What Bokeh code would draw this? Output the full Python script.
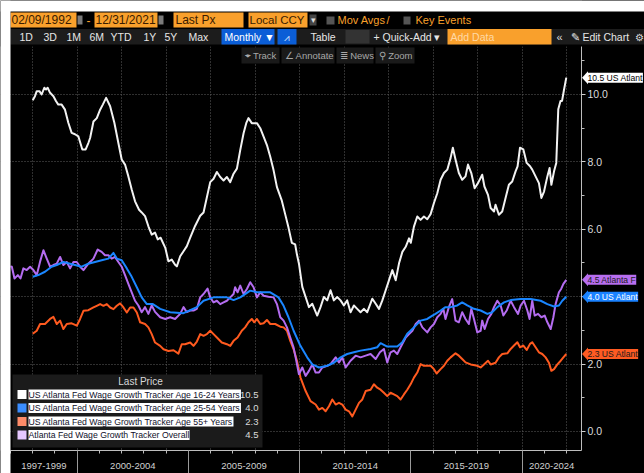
from bokeh.plotting import figure
from bokeh.models import (Range1d, LinearAxis, FixedTicker, BoxAnnotation, Label, Grid,
                          PrintfTickFormatter, PolyAnnotation)
from bokeh.embed import file_html
from bokeh.resources import INLINE

# ---------------- data (decimal years, % wage growth) ----------------
years_1624 = [1998.00, 1998.10, 1998.18, 1998.30, 1998.40, 1998.52, 1998.60, 1998.67, 1998.78, 1998.93,
              1999.05, 1999.15, 1999.30, 1999.45, 1999.60, 1999.75, 1999.90, 2000.05, 2000.23, 2000.38,
              2000.50, 2000.58, 2000.73, 2000.88, 2001.03, 2001.15, 2001.30, 2001.48, 2001.67, 2001.85,
              2002.00, 2002.15, 2002.30, 2002.45, 2002.60, 2002.78, 2002.90, 2003.05, 2003.20, 2003.35,
              2003.50, 2003.62, 2003.75, 2003.96, 2004.10, 2004.25, 2004.40, 2004.48, 2004.63, 2004.78,
              2004.93, 2005.08, 2005.30, 2005.53, 2005.68, 2005.83, 2005.98, 2006.13, 2006.28, 2006.43,
              2006.58, 2006.73, 2006.88, 2007.03, 2007.18, 2007.33, 2007.48, 2007.60, 2007.70, 2007.85,
              2008.08, 2008.23, 2008.38, 2008.53, 2008.68, 2008.83, 2008.98, 2009.20, 2009.35, 2009.50,
              2009.65, 2009.80, 2009.88, 2009.97, 2010.12, 2010.27, 2010.42, 2010.57, 2010.79, 2010.94,
              2011.09, 2011.24, 2011.39, 2011.54, 2011.69, 2011.84, 2011.99, 2012.14, 2012.29, 2012.44,
              2012.59, 2012.74, 2012.89, 2013.04, 2013.27, 2013.42, 2013.57, 2013.72, 2013.87, 2014.02,
              2014.17, 2014.32, 2014.47, 2014.62, 2014.77, 2014.92, 2015.00, 2015.14, 2015.29, 2015.44,
              2015.59, 2015.74, 2015.89, 2016.04, 2016.19, 2016.34, 2016.49, 2016.64, 2016.79, 2016.89,
              2017.01, 2017.16, 2017.31, 2017.46, 2017.57, 2017.72, 2017.87, 2018.02, 2018.21, 2018.31,
              2018.47, 2018.59, 2018.74, 2018.81, 2018.96, 2019.11, 2019.26, 2019.41, 2019.56, 2019.71,
              2019.80, 2019.91, 2020.06, 2020.21, 2020.36, 2020.46, 2020.61, 2020.76, 2020.87, 2020.99,
              2021.14, 2021.24, 2021.32, 2021.44, 2021.54, 2021.63, 2021.73, 2021.80, 2021.88, 2021.99]
wage_1624 = [9.83, 9.95, 10.10, 10.10, 10.00, 10.20, 10.15, 10.20, 10.05, 9.95,
             9.80, 9.70, 9.70, 9.55, 9.16, 8.86, 8.82, 8.76, 8.37, 8.37,
             8.56, 8.71, 9.20, 9.30, 9.55, 9.70, 9.90, 9.65, 9.16, 8.56,
             8.07, 7.92, 7.57, 7.18, 6.83, 6.58, 6.50, 6.39, 6.09, 5.84,
             5.90, 5.70, 5.75, 5.45, 5.05, 5.10, 4.95, 4.90, 5.20, 5.35,
             5.50, 5.75, 6.10, 6.40, 6.50, 6.95, 7.40, 7.50, 7.70, 7.55,
             7.45, 7.55, 7.40, 7.65, 7.80, 8.35, 8.85, 9.15, 9.30, 9.15,
             9.15, 9.00, 8.75, 8.50, 8.15, 7.75, 7.25, 6.85, 6.45, 6.05,
             5.60, 5.55, 5.25, 4.98, 4.29, 3.99, 3.69, 3.79, 3.44, 3.69,
             3.99, 3.89, 4.19, 3.89, 3.99, 3.89, 3.74, 3.89, 3.54, 3.74,
             3.64, 3.54, 3.64, 3.54, 3.94, 3.79, 3.64, 3.89, 4.19, 4.49,
             4.79, 4.49, 4.99, 5.33, 5.48, 5.73, 5.60, 6.08, 6.38, 6.28,
             6.38, 6.30, 6.45, 6.78, 7.07, 7.47, 7.67, 7.77, 8.12, 8.42,
             8.07, 7.67, 7.47, 7.57, 7.92, 7.67, 7.22, 7.37, 7.62, 7.27,
             7.02, 6.63, 6.53, 6.73, 6.43, 6.53, 6.93, 7.32, 7.42, 7.72,
             7.87, 8.42, 8.37, 7.97, 7.87, 7.77, 7.57, 7.37, 6.93, 7.12,
             7.57, 7.82, 7.32, 7.72, 7.97, 9.56, 9.81, 9.81, 10.11, 10.50]

years_2554 = [1998.00, 1998.25, 1998.55, 1998.85, 1999.08, 1999.38, 1999.68, 1999.90, 2000.20, 2000.50,
              2000.80, 2001.10, 2001.40, 2001.63, 2001.78, 2002.00, 2002.23, 2002.45, 2002.68, 2002.90,
              2003.13, 2003.40, 2003.73, 2004.18, 2004.78, 2005.38, 2005.68, 2006.13, 2006.73, 2007.03,
              2007.33, 2007.78, 2008.08, 2008.68, 2009.05, 2009.28, 2009.50, 2009.73, 2010.03, 2010.34,
              2010.57, 2010.87, 2011.24, 2011.54, 2011.84, 2012.14, 2012.44, 2012.74, 2013.19, 2013.49,
              2013.64, 2013.94, 2014.39, 2014.62, 2014.84, 2015.14, 2015.44, 2015.74, 2015.97, 2016.11,
              2016.34, 2016.56, 2016.79, 2017.09, 2017.31, 2017.54, 2017.84, 2018.14, 2018.44, 2018.66,
              2018.89, 2019.19, 2019.49, 2019.94, 2020.39, 2020.84, 2021.14, 2021.44, 2021.66, 2021.81,
              2021.99]
wage_2554 = [4.59, 4.64, 4.74, 4.89, 4.94, 5.03, 4.98, 4.94, 4.89, 4.98,
             5.03, 5.08, 5.13, 5.30, 5.13, 5.08, 4.84, 4.59, 4.28, 3.98,
             3.78, 3.78, 3.64, 3.54, 3.51, 3.69, 3.88, 3.98, 3.98, 3.90,
             3.98, 4.18, 4.13, 4.13, 3.98, 3.73, 3.39, 2.99, 2.55, 2.20,
             1.99, 1.90, 1.95, 2.04, 2.20, 2.30, 2.35, 2.40, 2.45, 2.50,
             2.62, 2.52, 2.52, 2.65, 2.90, 3.09, 3.29, 3.34, 3.44, 3.49,
             3.59, 3.69, 3.69, 3.74, 3.83, 3.74, 3.64, 3.59, 3.49, 3.54,
             3.69, 3.83, 3.90, 3.93, 3.93, 3.88, 3.78, 3.71, 3.74, 3.88,
             4.00]

years_55 = [1998.00, 1998.18, 1998.33, 1998.55, 1998.78, 1998.93, 1999.08, 1999.23, 1999.38, 1999.53,
            1999.75, 1999.98, 2000.13, 2000.28, 2000.50, 2000.73, 2000.88, 2001.03, 2001.18, 2001.33,
            2001.48, 2001.63, 2001.78, 2001.93, 2002.08, 2002.23, 2002.38, 2002.53, 2002.68, 2002.83,
            2003.05, 2003.20, 2003.35, 2003.50, 2003.73, 2003.88, 2004.10, 2004.33, 2004.55, 2004.70,
            2004.85, 2005.08, 2005.23, 2005.38, 2005.53, 2005.68, 2005.83, 2005.98, 2006.13, 2006.28,
            2006.50, 2006.73, 2006.88, 2007.03, 2007.21, 2007.40, 2007.55, 2007.70, 2007.85, 2007.96,
            2008.08, 2008.23, 2008.38, 2008.53, 2008.68, 2008.90, 2009.13, 2009.28, 2009.43, 2009.58,
            2009.73, 2009.88, 2010.04, 2010.27, 2010.49, 2010.72, 2010.87, 2011.02, 2011.17, 2011.32,
            2011.47, 2011.62, 2011.77, 2011.92, 2012.07, 2012.22, 2012.37, 2012.52, 2012.67, 2012.82,
            2012.97, 2013.19, 2013.34, 2013.49, 2013.64, 2013.79, 2013.94, 2014.09, 2014.24, 2014.39,
            2014.54, 2014.69, 2014.84, 2014.99, 2015.14, 2015.29, 2015.44, 2015.59, 2015.74, 2015.89,
            2016.04, 2016.16, 2016.34, 2016.49, 2016.64, 2016.79, 2017.01, 2017.16, 2017.31, 2017.46,
            2017.69, 2017.99, 2018.14, 2018.29, 2018.47, 2018.59, 2018.81, 2018.96, 2019.11, 2019.34,
            2019.49, 2019.64, 2019.79, 2019.91, 2020.06, 2020.21, 2020.36, 2020.46, 2020.61, 2020.76,
            2020.91, 2021.06, 2021.21, 2021.32, 2021.44, 2021.59, 2021.74, 2021.86, 2021.99]
wage_55 = [2.90, 2.99, 3.19, 3.19, 3.34, 3.40, 3.19, 3.29, 3.04, 3.19,
           3.21, 3.14, 3.34, 3.58, 3.60, 3.68, 3.73, 3.78, 3.73, 3.78,
           3.68, 3.63, 3.73, 3.80, 3.68, 3.53, 3.68, 3.68, 3.53, 3.24,
           3.19, 3.09, 2.89, 2.64, 2.54, 2.44, 2.39, 2.41, 2.31, 2.59,
           2.59, 2.64, 2.54, 2.67, 2.89, 2.84, 2.89, 2.99, 2.89, 2.79,
           2.64, 2.59, 2.54, 2.69, 2.79, 2.99, 3.09, 3.24, 3.34, 3.24,
           3.34, 3.19, 3.21, 3.31, 3.19, 3.19, 3.11, 3.09, 2.99, 2.69,
           2.44, 2.10, 1.60, 1.20, 0.90, 0.80, 0.65, 0.70, 0.60, 0.75,
           0.95, 0.80, 0.85, 0.80, 0.65, 0.60, 0.45, 0.65, 0.85, 0.95,
           1.20, 1.24, 1.40, 1.30, 1.24, 1.15, 1.05, 1.15, 1.10, 1.05,
           0.95, 1.10, 1.24, 1.40, 1.60, 1.75, 2.00, 1.95, 1.95, 1.95,
           1.85, 1.72, 1.85, 1.95, 2.10, 2.20, 2.32, 2.25, 2.15, 2.05,
           1.99, 1.95, 1.90, 1.99, 2.10, 1.99, 2.04, 2.20, 2.30, 2.32,
           2.45, 2.55, 2.65, 2.50, 2.55, 2.42, 2.60, 2.65, 2.50, 2.35,
           2.30, 2.20, 2.04, 1.80, 1.85, 1.99, 2.10, 2.20, 2.30]

years_all = [1997.00, 1997.06, 1997.18, 1997.33, 1997.45, 1997.58, 1997.73, 1997.88, 1998.03, 1998.18,
             1998.33, 1998.48, 1998.63, 1998.78, 1998.93, 1999.08, 1999.23, 1999.38, 1999.53, 1999.68,
             1999.83, 1999.98, 2000.13, 2000.28, 2000.50, 2000.73, 2000.92, 2001.10, 2001.25, 2001.40,
             2001.55, 2001.70, 2001.85, 2002.00, 2002.15, 2002.30, 2002.45, 2002.60, 2002.75, 2002.90,
             2003.05, 2003.20, 2003.35, 2003.50, 2003.73, 2003.96, 2004.18, 2004.40, 2004.63, 2004.78,
             2004.93, 2005.08, 2005.23, 2005.38, 2005.53, 2005.68, 2005.86, 2005.98, 2006.13, 2006.28,
             2006.43, 2006.58, 2006.73, 2006.88, 2007.03, 2007.10, 2007.21, 2007.33, 2007.48, 2007.63,
             2007.78, 2007.93, 2008.08, 2008.23, 2008.38, 2008.60, 2008.83, 2008.98, 2009.13, 2009.28,
             2009.43, 2009.58, 2009.73, 2009.82, 2009.97, 2010.12, 2010.27, 2010.42, 2010.57, 2010.72,
             2010.87, 2011.02, 2011.24, 2011.39, 2011.62, 2011.77, 2011.92, 2012.07, 2012.29, 2012.52,
             2012.74, 2012.97, 2013.19, 2013.42, 2013.61, 2013.79, 2013.94, 2014.09, 2014.24, 2014.39,
             2014.54, 2014.77, 2014.92, 2015.07, 2015.22, 2015.37, 2015.52, 2015.74, 2015.89, 2016.04,
             2016.19, 2016.34, 2016.46, 2016.56, 2016.71, 2016.86, 2017.01, 2017.16, 2017.31, 2017.46,
             2017.61, 2017.72, 2017.84, 2017.99, 2018.14, 2018.21, 2018.32, 2018.47, 2018.62, 2018.74,
             2018.89, 2019.04, 2019.16, 2019.31, 2019.49, 2019.64, 2019.82, 2019.94, 2020.09, 2020.24,
             2020.34, 2020.46, 2020.57, 2020.72, 2020.87, 2021.02, 2021.14, 2021.29, 2021.41, 2021.51,
             2021.66, 2021.76, 2021.86, 2021.99]
wage_all = [4.90, 4.89, 4.54, 4.64, 4.54, 4.84, 4.79, 4.89, 4.79, 4.64,
            5.04, 5.38, 5.13, 4.89, 4.94, 4.98, 5.18, 4.94, 5.03, 4.84,
            5.03, 5.03, 4.89, 4.79, 4.98, 5.13, 5.40, 5.33, 5.23, 5.23,
            5.13, 5.18, 5.03, 4.89, 4.64, 4.38, 4.13, 3.88, 3.74, 3.54,
            3.69, 3.49, 3.74, 3.55, 3.39, 3.34, 3.39, 3.34, 3.49, 3.69,
            3.54, 3.59, 3.59, 3.64, 3.98, 4.08, 4.24, 3.98, 3.83, 3.88,
            3.78, 3.83, 3.88, 3.98, 4.08, 4.28, 4.13, 4.33, 4.08, 4.23,
            4.43, 4.28, 3.98, 4.13, 4.03, 4.00, 3.98, 3.78, 3.39, 3.29,
            3.09, 2.79, 2.49, 2.20, 1.70, 1.90, 1.65, 1.80, 1.99, 1.75,
            1.75, 1.90, 1.95, 2.00, 2.20, 2.05, 2.20, 1.90, 2.10, 2.25,
            2.20, 2.25, 2.30, 2.15, 2.35, 2.45, 2.05, 2.35, 2.40, 2.30,
            2.50, 2.79, 2.89, 2.99, 3.19, 3.29, 3.09, 2.94, 3.09, 3.19,
            3.39, 3.49, 3.64, 3.34, 3.69, 3.93, 3.29, 3.24, 3.54, 3.34,
            3.19, 3.64, 3.34, 2.94, 2.99, 3.29, 3.04, 3.34, 3.49, 3.69,
            3.88, 3.74, 3.44, 3.59, 3.88, 3.69, 3.49, 3.74, 3.88, 3.59,
            3.34, 3.88, 3.44, 3.49, 3.39, 3.44, 3.24, 3.04, 3.39, 3.78,
            4.13, 4.23, 4.38, 4.50]

series_names = ["US Atlanta Fed Wage Growth Tracker Age 16-24 Years",
                "US Atlanta Fed Wage Growth Tracker Age 25-54 Years",
                "US Atlanta Fed Wage Growth Tracker Age 55+ Years",
                "Atlanta Fed Wage Growth Tracker Overall"]
tag_names = ["US Atlant", "US Atlant", "US Atlant", "Atlanta F"]

period_ticks = [1998.5, 2002.5, 2007.5, 2012.5, 2017.5, 2021.33]
period_labels = ["1997-1999", "2000-2004", "2005-2009", "2010-2014", "2015-2019", "2020-2024"]
period_breaks = [2000, 2005, 2010, 2015, 2020]
year_ticks = list(range(1997, 2023))
grid_years = list(range(1998, 2023, 2))
y_ticks = [0, 2, 4, 6, 8, 10]
y_minor = [1, 3, 5, 7, 9, 11]

# ---------------- styling ----------------
FONT = "Liberation Sans"
OR = "#f9a02c"
line_colors = ["#f2f2f2", "#1a86ff", "#ff5a1f", "#b46cf0"]
legend_colors = ["#ffffff", "#3a8dff", "#ff8c69", "#e6c8ff"]
tag_bg = ["#ffffff", "#1a82ff", "#ff5b22", "#b86ef0"]
tag_fg = ["#000000", "#ffffff", "#1a1a1a", "#1a1a1a"]

W, H = 644, 473
# data range so that: 1997.0 -> x=10px, 22.24 px per year; 0% -> y=431px, 33.7 px per point
X0, X1 = 1996.5504, 2025.5072
XA = 2022.6745          # right value axis position (x = 581 px)
Y0, Y1 = -1.2463, 12.7893
YA = -0.5638            # time axis position (y = 450 px)
PX_PER_UNIT = 33.7

p = figure(width=W, height=H, x_range=Range1d(X0, X1), y_range=Range1d(Y0, Y1),
           output_backend="svg", toolbar_location=None, x_axis_location=None,
           y_axis_location=None, background_fill_color="black",
           border_fill_color="black", outline_line_color=None,
           min_border_left=0, min_border_right=0, min_border_top=0, min_border_bottom=0)

for g in p.xgrid + p.ygrid:
    g.visible = False
p.add_layout(Grid(dimension=0, ticker=FixedTicker(ticks=grid_years), grid_line_color="#5e5e5e",
                  grid_line_dash="1 2", grid_line_width=1))
p.add_layout(Grid(dimension=1, ticker=FixedTicker(ticks=y_ticks), grid_line_color="#5e5e5e",
                  grid_line_dash="1 2", grid_line_width=1))


def sbox(x0, y0, x1, y1, color, level="annotation"):
    """decorative box in page pixels (frame == whole canvas)"""
    p.add_layout(BoxAnnotation(left=x0, right=x1, top=H - y0, bottom=H - y1,
                               left_units="screen", right_units="screen",
                               top_units="screen", bottom_units="screen",
                               fill_color=color, fill_alpha=1.0, line_color=None, level=level))


def slabel(x, y, text, color, size="11px", align="left", bg=None):
    kw = {}
    if bg is not None:
        kw = dict(background_fill_color=bg, background_fill_alpha=1.0)
    p.add_layout(Label(x=x, y=H - y, x_units="screen", y_units="screen", text=text,
                       text_color=color, text_font=FONT, text_font_size=size,
                       text_align=align, text_baseline="middle", **kw))


# mask the grid outside the plotting area (drawn after the grids, below axes/lines)
sbox(581, 0, 644, 473, "#000000", level="underlay")
sbox(0, 450, 644, 473, "#000000", level="underlay")

# right value axis (fixed at x = XA)
ya = LinearAxis(fixed_location=XA, bounds=(YA, Y1),
                ticker=FixedTicker(ticks=y_ticks, minor_ticks=y_minor),
                formatter=PrintfTickFormatter(format="%.1f"),
                axis_line_color="#bdbdbd", major_tick_line_color="#d0d0d0",
                major_tick_out=4, major_tick_in=0, minor_tick_line_color="#bdbdbd",
                minor_tick_out=3, minor_tick_in=0, major_label_text_color="#dcdcdc",
                major_label_text_font=FONT, major_label_text_font_size="10.5px",
                major_label_standoff=2)
p.add_layout(ya, "right")

# bottom time axis (labels centred on periods)
xa = LinearAxis(fixed_location=YA, bounds=(1997.0, XA),
                ticker=FixedTicker(ticks=period_ticks, minor_ticks=year_ticks),
                major_label_overrides={t: s for t, s in zip(period_ticks, period_labels)},
                axis_line_color="#bdbdbd", major_tick_line_color=None,
                major_tick_out=0, major_tick_in=0,
                minor_tick_line_color="#bdbdbd", minor_tick_out=3, minor_tick_in=0,
                major_label_text_color="#d0d0d0", major_label_text_font=FONT,
                major_label_text_font_size="9.5px", major_label_standoff=10)
p.add_layout(xa, "below")
# period separators
xsep = LinearAxis(fixed_location=YA,
                  ticker=FixedTicker(ticks=period_breaks, minor_ticks=[]),
                  axis_line_color=None, major_tick_line_color="#9a9a9a",
                  major_tick_out=24, major_tick_in=0, minor_tick_line_color=None,
                  major_label_text_alpha=0, major_label_text_font_size="1px")
p.add_layout(xsep, "below")

# ---------------- series ----------------
xs_list = [years_1624, years_2554, years_55, years_all]
ys_list = [wage_1624, wage_2554, wage_55, wage_all]
for i in [0, 2, 3, 1]:
    p.line(xs_list[i], ys_list[i], line_color=line_colors[i], line_width=2, line_join="round")

# ---------------- header bars ----------------
sbox(0, 0, 644, 46, "#000000")
# row 1
ink = "#3a1c00"
sbox(10, 12, 76, 27, OR); slabel(11, 19.5, "02/09/1992", ink, "12px")
sbox(77, 15, 82, 24, "#7a7a7a")
slabel(86, 19.5, "-", OR, "12px")
sbox(94, 12, 157, 27, OR); slabel(95, 19.5, "12/31/2021", ink, "12px")
sbox(158, 15, 163, 24, "#7a7a7a")
sbox(173, 12, 243, 27, OR); slabel(175, 19.5, "Last Px", ink, "12px")
sbox(248, 12, 307, 27, OR); slabel(249, 19.5, "Local CCY", ink, "11.5px")
sbox(309, 14, 316, 25, "#444444"); slabel(312.5, 19.5, "▾", "#dddddd", "9px", "center")
sbox(326, 16, 334, 24, "#555555"); slabel(337, 19.5, "Mov Avgs", OR, "11px")
slabel(386, 19.5, "/", OR, "11px")
sbox(403, 16, 410, 24, "#555555"); slabel(415, 19.5, "Key Events", OR, "11px")
# row 2
sbox(10, 28.5, 644, 44, "#1c1c1c")
for xx, tt in zip([19, 43, 66, 89, 110, 143, 164, 188],
                  ["1D", "3D", "1M", "6M", "YTD", "1Y", "5Y", "Max"]):
    slabel(xx, 36.5, tt, "#e6e6e6", "10.5px")
sbox(221, 28.5, 274, 44, "#0b5ed7"); slabel(224, 36.5, "Monthly ▼", "#ffffff", "10.5px")
sbox(277, 28.5, 296, 44, "#0b5ed7"); slabel(286.5, 36.5, "⩘", "#cfe0ff", "10px", "center")
slabel(310, 36.5, "Table", "#e6e6e6", "10.5px")
sbox(345, 29.5, 369, 43, "#333333")
slabel(373, 36.5, "+ Quick-Add ▾", "#e6e6e6", "10.5px")
sbox(447, 28.5, 551, 44, OR); slabel(450, 36.5, "Add Data", "#ffd9a6", "10.5px")
slabel(556, 36.5, "«", "#dddddd", "11px")
slabel(570, 36.5, "✎ Edit Chart", "#e6e6e6", "10.5px")
slabel(634, 36.5, "⚙", "#dddddd", "10px")
# row 3
for x0, x1, tt in [(241, 279, "⌖ Track"), (281, 334, "∠ Annotate"),
                   (336, 373, "≣ News"), (375, 414, "⚲ Zoom")]:
    sbox(x0, 47, x1, 63, "#1a1a1a")
    slabel(x0 + 3, 55, tt, "#a8a8a8", "9.5px")

# page-edge white strips as in the screenshot
sbox(0, 0, 644, 11, "#ffffff")
sbox(0, 0, 10, 473, "#ffffff")

# ---------------- legend panel ----------------
sbox(12, 374, 262, 447, "#1b1b1b")
slabel(140, 381, "Last Price", "#d8d8d8", "10px", "center")
row_y = [394, 407.5, 421, 434.5]
for i in range(4):
    yc = row_y[i]
    sbox(17, yc - 4.5, 26, yc + 4.5, legend_colors[i])
    slabel(28, yc, series_names[i], "#10102a", "8.7px", "left", "#ffffff")
    slabel(258, yc, f"{ys_list[i][-1]:.1f}", "#dcdcdc", "9.5px", "right")

# ---------------- last-value tags on the right axis ----------------
half = 6.5 / PX_PER_UNIT
for i in range(4):
    v = ys_list[i][-1]
    p.add_layout(PolyAnnotation(xs=[581.5, 587.5, 587.5], ys=[v, v + half, v - half],
                                xs_units="screen", ys_units="data",
                                fill_color=tag_bg[i], fill_alpha=1.0, line_color=None))
    p.add_layout(Label(x=587, x_units="screen", y=v, y_units="data",
                       text=f"{v:.1f} {tag_names[i]}",
                       text_color=tag_fg[i], text_font=FONT, text_font_size="8.6px",
                       text_baseline="middle", text_align="left",
                       background_fill_color=tag_bg[i], background_fill_alpha=1.0))

open("out.html", "w").write(file_html(p, INLINE))
